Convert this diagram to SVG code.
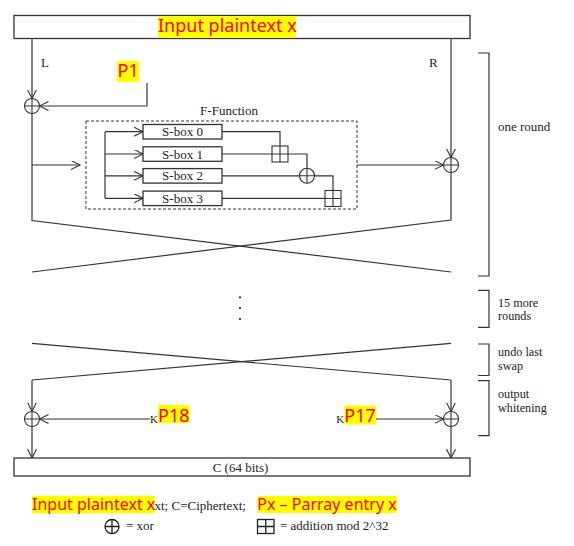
<svg xmlns="http://www.w3.org/2000/svg" width="574" height="546" viewBox="0 0 574 546">
<defs>
<style>
.ln{fill:none;stroke:#333;stroke-width:1.2}
.bx{fill:#fff;stroke:#333;stroke-width:1.3}
.sym{fill:#fff;stroke:#333;stroke-width:1.1}
.t{font-family:"Liberation Serif",serif;font-size:13px;fill:#222}
.tb{font-family:"Liberation Serif",serif;font-size:12.2px;fill:#222}
.hl{fill:#ffff00}
.red{font-family:"Noto Sans",sans-serif;font-size:18px;fill:#ff0000}
.red16{font-family:"Noto Sans",sans-serif;font-size:16px;fill:#ff0000}
.dash{fill:none;stroke:#333;stroke-width:1;stroke-dasharray:3,2}
</style>
<marker id="arr" markerUnits="userSpaceOnUse" markerWidth="12" markerHeight="12" refX="9" refY="4.5" orient="auto">
<path d="M0,0 L9,4.5 L0,9" fill="none" stroke="#333" stroke-width="1.1"/>
</marker>
<g id="xorSym"><circle r="7.5" class="sym"/><path d="M-7.5,0 H7.5 M0,-7.5 V7.5" class="sym"/></g>
<g id="addSym"><rect x="-8" y="-8" width="16" height="16" class="sym"/><path d="M-8,0 H8 M0,-8 V8" class="sym"/></g>
</defs>
<rect width="574" height="546" fill="#fff"/>

<g id="connectors">
<path class="ln" d="M32,38 V98.5" marker-end="url(#arr)"/>
<path class="ln" d="M32,113.5 V220.5 L451,272"/>
<path class="ln" d="M32,165 H80" marker-end="url(#arr)"/>
<path class="ln" d="M147,83 V106 H39.5" marker-end="url(#arr)"/>
<path class="ln" d="M451,38 V157.5" marker-end="url(#arr)"/>
<path class="ln" d="M451,172.5 V220 L32,272"/>
<path class="ln" d="M357,165 H443.5" marker-end="url(#arr)"/>
<path class="ln" d="M105,131.7 V198.3"/>
<path class="ln" d="M105,131.7 H143" marker-end="url(#arr)"/>
<path class="ln" d="M105,154 H143" marker-end="url(#arr)"/>
<path class="ln" d="M105,175.8 H143" marker-end="url(#arr)"/>
<path class="ln" d="M105,198.3 H143" marker-end="url(#arr)"/>
<path class="ln" d="M222,131.7 H280 V146"/>
<path class="ln" d="M222,154 H272"/>
<path class="ln" d="M288,154 H307 V168.3"/>
<path class="ln" d="M222,175.8 H299.5"/>
<path class="ln" d="M314.5,175.8 H333 V190.5"/>
<path class="ln" d="M222,198.3 H325"/>
<path class="ln" d="M32,343.3 L451,380"/>
<path class="ln" d="M451,343.3 L32,380"/>
<path class="ln" d="M32,380 V411.5" marker-end="url(#arr)"/>
<path class="ln" d="M32,426.5 V458" marker-end="url(#arr)"/>
<path class="ln" d="M451,380 V411.5" marker-end="url(#arr)"/>
<path class="ln" d="M451,426.5 V458" marker-end="url(#arr)"/>
<path class="ln" d="M150,419 H39.5" marker-end="url(#arr)"/>
<path class="ln" d="M376,419 H443.5" marker-end="url(#arr)"/>
</g>

<g id="input">
<rect class="bx" x="14" y="15.5" width="456" height="23"/>
<rect class="hl" x="158" y="16.2" width="137.8" height="21.6"/>
<text class="red" x="158" y="32">Input plaintext x</text>
</g>
<g id="labelL"><text class="t" x="41" y="67">L</text></g>
<g id="labelR"><text class="t" x="429" y="67">R</text></g>
<g id="P1">
<rect class="hl" x="117" y="61" width="22" height="21"/>
<text class="red" x="117.5" y="76.5">P1</text>
</g>
<g id="xorL1"><use href="#xorSym" x="32" y="106"/></g>
<g id="xorR1"><use href="#xorSym" x="451" y="165"/></g>

<g id="ffunction">
<rect class="dash" x="86" y="121" width="271" height="88"/>
<text class="t" x="229" y="115" text-anchor="middle">F-Function</text>
</g>
<g id="sbox0"><rect class="bx" x="143" y="124.5" width="79" height="14.5"/><text class="t" x="182.5" y="136.3" text-anchor="middle">S-box 0</text></g>
<g id="sbox1"><rect class="bx" x="143" y="146.8" width="79" height="14.5"/><text class="t" x="182.5" y="158.6" text-anchor="middle">S-box 1</text></g>
<g id="sbox2"><rect class="bx" x="143" y="168.6" width="79" height="14.5"/><text class="t" x="182.5" y="180.4" text-anchor="middle">S-box 2</text></g>
<g id="sbox3"><rect class="bx" x="143" y="191.1" width="79" height="14.5"/><text class="t" x="182.5" y="202.9" text-anchor="middle">S-box 3</text></g>
<g id="add1"><use href="#addSym" x="280" y="154"/></g>
<g id="xorF"><use href="#xorSym" x="307" y="175.8"/></g>
<g id="add2"><use href="#addSym" x="333" y="198.5"/></g>

<g id="dots">
<circle cx="240" cy="297.3" r="1.1" fill="#222"/>
<circle cx="240" cy="308" r="1.1" fill="#222"/>
<circle cx="240" cy="319" r="1.1" fill="#222"/>
</g>

<g id="braces">
<path class="ln" d="M478,53 H489 V276 H478"/>
<text class="t" x="498" y="131">one round</text>
<path class="ln" d="M478,290.3 H489 V327.3 H478"/>
<text class="tb" x="498" y="306.8">15 more</text>
<text class="tb" x="498" y="320.4">rounds</text>
<path class="ln" d="M478,344 H489 V375.5 H478"/>
<text class="tb" x="498" y="356.3">undo last</text>
<text class="tb" x="498" y="369.9">swap</text>
<path class="ln" d="M478,380.7 H489 V435.7 H478"/>
<text class="tb" x="498" y="398.3">output</text>
<text class="tb" x="498" y="411.9">whitening</text>
</g>

<g id="xorL2"><use href="#xorSym" x="32" y="419"/></g>
<g id="xorR2"><use href="#xorSym" x="451" y="419"/></g>
<g id="P18">
<text class="t" x="150" y="423" style="font-size:11px">K</text>
<rect class="hl" x="158" y="405" width="31.5" height="18"/>
<text class="red" x="158" y="421.5">P18</text>
</g>
<g id="P17">
<text class="t" x="336.3" y="423" style="font-size:11px">K</text>
<rect class="hl" x="344.3" y="405.5" width="31.7" height="19"/>
<text class="red" x="344.3" y="422">P17</text>
</g>

<g id="output">
<rect class="bx" x="14" y="458" width="456" height="18"/>
<text class="t" x="240.5" y="472" text-anchor="middle">C (64 bits)</text>
</g>

<g id="legend">
<rect class="hl" x="32" y="495.7" width="122.5" height="17.6"/>
<text class="red16" x="32" y="509.5">Input plaintext x</text>
<text class="t" x="154.5" y="509.5">xt; C=Ciphertext;</text>
<rect class="hl" x="257.3" y="496" width="139.4" height="17"/>
<text class="red16" x="257.3" y="509.5">Px – Parray entry x</text>
<circle cx="112" cy="526.5" r="7" fill="#fff" stroke="#222" stroke-width="1.3"/>
<path d="M105,526.5 H119 M112,519.5 V533.5" stroke="#222" stroke-width="1.3"/>
<text class="t" x="126" y="530">= xor</text>
<rect x="257.5" y="519.5" width="16.5" height="14" fill="#fff" stroke="#222" stroke-width="1.3"/>
<path d="M257.5,526.5 H274 M265.75,519.5 V533.5" stroke="#222" stroke-width="1.3"/>
<text class="t" x="280" y="530">= addition mod 2^32</text>
</g>
</svg>
